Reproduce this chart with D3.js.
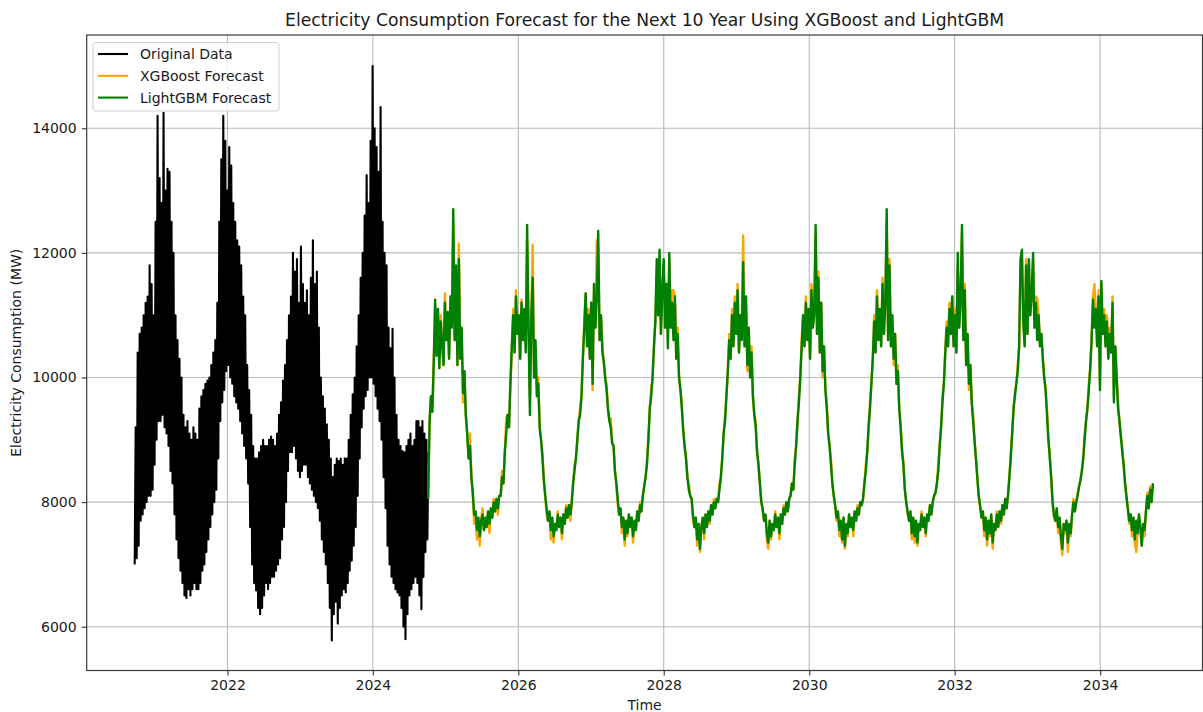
<!DOCTYPE html>
<html>
<head>
<meta charset="utf-8">
<script src="https://cdn.jsdelivr.net/npm/d3@7"></script>
<style>
  html, body { margin: 0; background: #ffffff; }
  svg { display: block; }
  text { font-family: "DejaVu Sans", sans-serif; fill: #1a1a1a; }
</style>
</head>
<body>
<svg id="chart" width="1203" height="712"></svg>
<script>
// Observed load: lowest and highest reading in each 10-day block, first block starts 2020-09-22
const originalStart = "2020-09-22";
const originalLow = [
  7000, 7100, 7300, 7700, 7800, 7900, 8000, 8100, 8100, 8200,
  8600, 9000, 9300, 9300, 9400, 9200, 9100, 8900, 8500, 8300,
  7800, 7400, 7100, 6900, 6700, 6500, 6460, 6600, 6500, 6600,
  6700, 6600, 6600, 6700, 6900, 7000, 7200, 7400, 7600, 7800,
  8000, 8200, 8700, 9300, 9600, 9800, 10100, 10200, 10000, 9900,
  9700, 9600, 9500, 9300, 9100, 8900, 8700, 8300, 7600, 7000,
  6700, 6580, 6300, 6200, 6300, 6500, 6700, 6600, 6700, 6800,
  6800, 6900, 7000, 7100, 7400, 7600, 8000, 8500, 8800, 8800,
  8900, 8700, 8500, 8400, 8500, 8600, 8600, 8400, 8300, 8200,
  8100, 8000, 7900, 7700, 7400, 7200, 7000, 6700, 6300, 5780,
  6200, 6400, 6050, 6300, 6500, 6600, 6550, 6700, 6900, 7060,
  7300, 7600, 8100, 8700, 9200, 9500, 9700, 9800, 10000, 10000,
  9900, 9700, 9500, 9300, 9000, 8400, 7900, 7300, 7000, 6800,
  6700, 6600, 6550, 6500, 6300, 6000, 5800, 6200, 6500, 6600,
  6700, 6800, 6700, 6500, 6280, 6800, 7200, 7400
];
const originalHigh = [
  9200, 10400, 10700, 10800, 11000, 11200, 11300, 11800, 11500, 11000,
  12500, 14200, 13200, 12800, 14250, 13000, 13350, 13300, 12500, 12000,
  11000, 10600, 10300, 10000, 9400, 9200, 9300, 9100, 9000, 9200,
  9100, 9000, 9500, 9700, 9800, 9900, 9950, 10000, 10200, 10400,
  10600, 11200, 12500, 13500, 14200, 13800, 13000, 13700, 13400, 12800,
  12500, 12200, 12100, 11800, 11300, 11000, 10200, 9800, 9400, 8900,
  8700, 8700, 8800, 8900, 9000, 8900, 8900, 9000, 9050, 9000,
  8900, 9100, 9400, 9600, 9950, 10200, 10600, 11000, 11300, 12000,
  11700, 11900, 11200, 12100, 11500, 11200, 11400, 11000, 11600, 12200,
  11500, 11700, 10800, 10000, 9700, 9500, 9250, 9000, 8700, 8400,
  8600, 8700, 8660, 8700, 8600, 8700, 8700, 9000, 9400, 9730,
  10000, 10500, 11000, 11600, 12000, 12600, 13250, 12800, 13800, 15000,
  14000, 13700, 13300, 14340, 12500, 12000, 11800, 10800, 10470, 10780,
  10000, 9400, 9000, 8900, 8820, 8800, 8900, 9000, 9100, 8900,
  9000, 9300, 9300, 9200, 9300, 9100, 9000, 8800
];

// Weekly forecasts, first week starts 2024-10-05 (one row per forecast year, Oct to Sep)
const forecastStart = "2024-10-05";
const xgboostForecast = [
  8050, 9350, 9700, 9450, 10250, 11100, 10350, 11100, 10150, 11000, 10550, 10200, 11350, 10600, 11050, 10300, 11300, 10900, 12500, 10600, 11600, 10200, 12150, 10500, 10800, 9600, 10100, 9400, 9100, 8700, 9100, 8400, 8150, 7650, 7850, 7400, 7750, 7300, 7700, 7900, 7550, 7650, 7600, 7850, 7500, 7900, 7750, 8050, 7850, 8050, 7800, 8100,
  8100, 8500, 8300, 8800, 9350, 9400, 9200, 9900, 10400, 11100, 10400, 11400, 10700, 11000, 10300, 11250, 10600, 11100, 10500, 12200, 10800, 9700, 11000, 12130, 10000, 10500, 9700, 10000, 9200, 9000, 8800, 8350, 8100, 7800, 7700, 7850, 7400, 7750, 7350, 7650, 7550, 7850, 7600, 7750, 7400, 7800, 7650, 7950, 7750, 7950, 7700, 8000,
  8300, 8600, 8700, 9000, 9300, 9500, 9700, 10300, 10900, 11350, 10500, 11100, 10300, 11200, 9800, 11500, 10800, 12200, 12100, 10600, 11000, 10500, 10250, 10000, 9900, 9500, 9300, 9350, 8950, 8900, 8500, 8300, 7950, 7800, 7900, 7500, 7750, 7300, 7700, 7450, 7800, 7600, 7750, 7350, 7700, 7550, 7850, 7700, 8000, 7850, 8100, 8250,
  8400, 8700, 9000, 9500, 9800, 10000, 10500, 10900, 11700, 11000, 11900, 10700, 11400, 11800, 10800, 11500, 10600, 11900, 10800, 11400, 11400, 11300, 10300, 10800, 10000, 9800, 9600, 9150, 8900, 8700, 8400, 8300, 8100, 8050, 7700, 7600, 7750, 7300, 7650, 7200, 7600, 7750, 7400, 7800, 7600, 7850, 7650, 7950, 7800, 8050, 7900, 8050,
  8000, 8300, 8400, 8700, 9100, 9400, 9700, 10100, 10700, 10300, 11100, 10500, 11300, 10700, 11500, 10400, 11000, 10700, 12280, 10500, 11300, 10100, 10800, 10000, 10500, 9700, 9400, 9300, 8800, 8600, 8300, 8000, 7850, 7700, 7800, 7400, 7250, 7700, 7400, 7650, 7550, 7850, 7600, 7750, 7400, 7800, 7650, 7950, 7800, 8000, 7850, 8050,
  8100, 8300, 8200, 8700, 8900, 9300, 9700, 10000, 10600, 11000, 10500, 11300, 10600, 11100, 10300, 11500, 10800, 11100, 12300, 10700, 11700, 10400, 11200, 10000, 10500, 9800, 9600, 9100, 8900, 8700, 8300, 8100, 7950, 7700, 7850, 7450, 7700, 7350, 7750, 7250, 7650, 7450, 7800, 7600, 7750, 7450, 7850, 7700, 7950, 7800, 8000, 7950,
  8050, 8300, 8600, 8800, 9200, 9600, 9900, 10300, 11000, 10400, 11400, 10600, 11100, 10500, 11600, 10700, 11200, 12500, 10600, 11900, 10500, 11000, 10200, 10700, 9900, 10200, 9500, 9200, 8900, 8600, 8200, 8000, 7800, 7700, 7850, 7400, 7750, 7350, 7700, 7300, 7650, 7550, 7850, 7600, 7750, 7450, 7800, 7700, 7950, 7800, 8000, 8100,
  8150, 8300, 8600, 8900, 9200, 9700, 9900, 10400, 10900, 10500, 11200, 10700, 11300, 10500, 11100, 10400, 11800, 10800, 11300, 12300, 10600, 11500, 10200, 10700, 9800, 10200, 9600, 9400, 9000, 8700, 8400, 8100, 7900, 7750, 7850, 7450, 7750, 7300, 7700, 7450, 7800, 7250, 7650, 7550, 7850, 7600, 7850, 7650, 7950, 7800, 8050, 7900,
  8100, 8400, 8800, 9100, 9500, 9800, 9900, 10200, 10500, 11700, 11900, 10900, 10500, 11900, 10700, 11800, 11000, 11400, 11900, 10800, 11300, 11270, 11000, 10500, 10700, 10300, 10000, 9800, 9500, 9000, 8800, 8400, 8000, 7750, 7700, 7900, 7500, 7750, 7350, 7150, 7650, 7500, 7700, 7200, 7650, 7450, 7800, 8050, 7850, 8000, 8150, 8250,
  8350, 8500, 8700, 9100, 9300, 9500, 9900, 10150, 10600, 11300, 11500, 11100, 10500, 11400, 9900, 11500, 10700, 11100, 10500, 11000, 10300, 10800, 10400, 11300, 9700, 10500, 10000, 9600, 9300, 9050, 8900, 8600, 8300, 8050, 7900, 7650, 7800, 7450, 7750, 7350, 7200, 7500, 7800, 7550, 7300, 7650, 7450, 7850, 8150, 7900, 8250, 8000, 8300
];
const lightgbmForecast = [
  8050, 9250, 9700, 9450, 10250, 11250, 10350, 11100, 10150, 10900, 10550, 10200, 11200, 10600, 11050, 10300, 11300, 10800, 12700, 10600, 11800, 10200, 11900, 10300, 10800, 9750, 10100, 9400, 9100, 8700, 8900, 8400, 8150, 7800, 7850, 7550, 7750, 7450, 7700, 7800, 7550, 7750, 7600, 7850, 7650, 7900, 7750, 8000, 7850, 8050, 7900, 8100,
  8100, 8400, 8300, 8800, 9100, 9400, 9200, 9900, 10500, 11000, 10400, 11300, 10700, 11000, 10300, 11200, 10600, 11100, 10400, 12450, 10800, 9400, 11000, 11600, 10000, 10600, 9700, 9900, 9200, 9000, 8700, 8350, 8100, 7900, 7700, 7850, 7550, 7750, 7450, 7650, 7550, 7800, 7600, 7750, 7500, 7800, 7650, 7900, 7750, 7950, 7800, 8000,
  8300, 8500, 8700, 9000, 9300, 9400, 9700, 10300, 10800, 11350, 10500, 11000, 10300, 11200, 9900, 11500, 10800, 11300, 12350, 10600, 11000, 10400, 10250, 10000, 9800, 9500, 9300, 9200, 8950, 8900, 8500, 8300, 8050, 7800, 7900, 7600, 7750, 7400, 7700, 7500, 7800, 7600, 7750, 7450, 7700, 7550, 7850, 7700, 7950, 7850, 8100, 8250,
  8400, 8600, 9000, 9500, 9700, 10000, 10500, 10900, 11900, 11000, 12050, 10700, 11400, 11900, 10800, 11500, 10470, 12000, 10800, 11200, 10600, 11300, 10300, 10700, 10000, 9800, 9500, 9150, 8900, 8700, 8400, 8200, 8100, 8050, 7800, 7600, 7750, 7400, 7650, 7250, 7600, 7750, 7500, 7800, 7600, 7850, 7700, 7950, 7800, 8000, 7900, 8050,
  8000, 8200, 8400, 8700, 9100, 9300, 9700, 10100, 10600, 10300, 11000, 10500, 11200, 10700, 11400, 10400, 11000, 10600, 11850, 10500, 11300, 10200, 10800, 10000, 10400, 9700, 9400, 9200, 8800, 8600, 8300, 8000, 7900, 7700, 7800, 7500, 7350, 7700, 7450, 7650, 7550, 7800, 7600, 7750, 7500, 7800, 7650, 7900, 7800, 8000, 7850, 8050,
  8100, 8300, 8200, 8600, 8900, 9300, 9600, 10000, 10500, 11000, 10500, 11200, 10600, 11100, 10300, 11400, 10800, 11000, 12450, 10700, 11600, 10400, 11200, 10100, 10500, 9800, 9500, 9100, 8900, 8600, 8300, 8100, 7950, 7750, 7850, 7550, 7700, 7400, 7750, 7300, 7650, 7500, 7800, 7600, 7750, 7550, 7850, 7700, 7900, 7800, 8000, 7950,
  8050, 8300, 8500, 8800, 9200, 9500, 9900, 10300, 10900, 10400, 11300, 10600, 11100, 10500, 11500, 10700, 11200, 12700, 10600, 11800, 10500, 11000, 10300, 10700, 9900, 10100, 9500, 9200, 8800, 8600, 8200, 8000, 7850, 7700, 7850, 7500, 7750, 7450, 7700, 7350, 7650, 7550, 7800, 7600, 7750, 7500, 7800, 7700, 7950, 7800, 8000, 8100,
  8150, 8300, 8500, 8900, 9200, 9600, 9900, 10400, 10800, 10500, 11100, 10700, 11300, 10500, 11000, 10400, 12000, 10800, 11200, 12450, 10600, 11400, 10200, 10700, 9900, 10200, 9600, 9300, 9000, 8700, 8400, 8100, 7950, 7750, 7850, 7550, 7750, 7400, 7700, 7500, 7800, 7350, 7650, 7550, 7800, 7600, 7850, 7700, 7950, 7800, 8050, 7900,
  8100, 8400, 8700, 9100, 9500, 9700, 9900, 10100, 10500, 11900, 12050, 10900, 10500, 11800, 10700, 11900, 11000, 11300, 12000, 10800, 11200, 10600, 11000, 10500, 10700, 10300, 10000, 9800, 9400, 9000, 8700, 8400, 8000, 7800, 7700, 7900, 7600, 7750, 7450, 7250, 7650, 7550, 7700, 7350, 7650, 7500, 7800, 8000, 7850, 8000, 8100, 8250,
  8350, 8500, 8700, 9000, 9300, 9500, 9800, 10150, 10600, 11250, 10800, 11100, 10500, 11300, 9800, 11550, 10700, 11000, 10500, 10900, 10300, 10700, 10400, 11200, 9600, 10500, 10000, 9500, 9300, 9050, 8800, 8600, 8300, 8100, 7900, 7700, 7800, 7550, 7750, 7400, 7700, 7500, 7800, 7600, 7300, 7650, 7550, 7850, 8100, 7900, 8200, 8000, 8300
];

const yearTicks = [2022, 2024, 2026, 2028, 2030, 2032, 2034];
const mwTicks = [6000, 8000, 10000, 12000, 14000];

const seriesInfo = [
  { name: "Original Data", color: "#000000" },
  { name: "XGBoost Forecast", color: "#ffa500" },
  { name: "LightGBM Forecast", color: "#008000" }
];

// ---- layout ----
const plot = { left: 86.7, right: 1202.5, top: 35, bottom: 670.5 };
const DAY = 24 * 3600 * 1000;
const parse = d3.utcParse("%Y-%m-%d");

const x = d3.scaleUtc()
  .domain([Date.UTC(2020, 0, 25), Date.UTC(2035, 4, 30)])
  .range([plot.left, plot.right]);
const y = d3.scaleLinear()
  .domain([5297, 15497])
  .range([plot.bottom, plot.top]);

const svg = d3.select("#chart");

// original series: alternate block low and block high, 5 days apart
const t0 = parse(originalStart).getTime();
const originalPts = [];
originalLow.forEach((lo, k) => {
  originalPts.push({ t: new Date(t0 + k * 10 * DAY), v: lo });
  originalPts.push({ t: new Date(t0 + (k * 10 + 5) * DAY), v: originalHigh[k] });
});

const f0 = parse(forecastStart).getTime();
const weekly = arr => arr.map((v, i) => ({ t: new Date(f0 + i * 7 * DAY), v }));
const xgbPts = weekly(xgboostForecast);
const lgbPts = weekly(lightgbmForecast);

// ---- grid ----
const grid = svg.append("g").attr("stroke", "#b0b0b0").attr("stroke-width", 1.1).attr("opacity", 0.85);
yearTicks.forEach(yr => {
  const px = x(Date.UTC(yr, 0, 1));
  grid.append("line").attr("x1", px).attr("x2", px).attr("y1", plot.top).attr("y2", plot.bottom);
});
mwTicks.forEach(v => {
  grid.append("line").attr("x1", plot.left).attr("x2", plot.right).attr("y1", y(v)).attr("y2", y(v));
});

// ---- series ----
svg.append("clipPath").attr("id", "plotclip").append("rect")
  .attr("x", plot.left).attr("y", plot.top)
  .attr("width", plot.right - plot.left).attr("height", plot.bottom - plot.top);

const line = d3.line().x(d => x(d.t)).y(d => y(d.v));
const marks = svg.append("g").attr("clip-path", "url(#plotclip)");
[[originalPts, 0, 2.1], [xgbPts, 1, 2.4], [lgbPts, 2, 2.4]].forEach(([pts, i, w]) => {
  marks.append("path")
    .attr("d", line(pts))
    .attr("fill", "none")
    .attr("stroke", seriesInfo[i].color)
    .attr("stroke-width", w)
    .attr("stroke-linejoin", "round");
});

// ---- axes ----
const xAxis = d3.axisBottom(x)
  .tickValues(yearTicks.map(yr => new Date(Date.UTC(yr, 0, 1))))
  .tickFormat(d3.utcFormat("%Y"))
  .tickSize(5).tickPadding(5);
const yAxis = d3.axisLeft(y)
  .tickValues(mwTicks)
  .tickFormat(d3.format("d"))
  .tickSize(5).tickPadding(5);

const gx = svg.append("g").attr("transform", `translate(0,${plot.bottom})`).call(xAxis);
const gy = svg.append("g").attr("transform", `translate(${plot.left},0)`).call(yAxis);
[gx, gy].forEach(g => {
  g.select(".domain").remove();
  g.selectAll(".tick line").attr("stroke", "#333").attr("stroke-width", 1.1);
  g.selectAll(".tick text").attr("font-size", 14).attr("fill", "#262626")
    .attr("font-family", "DejaVu Sans, sans-serif");
});

// frame
svg.append("rect")
  .attr("x", plot.left).attr("y", plot.top)
  .attr("width", plot.right - plot.left).attr("height", plot.bottom - plot.top)
  .attr("fill", "none").attr("stroke", "#3a3a3a").attr("stroke-width", 1.2);

// ---- labels ----
svg.append("text")
  .attr("x", (plot.left + plot.right) / 2).attr("y", 26)
  .attr("text-anchor", "middle").attr("font-size", 17.2)
  .text("Electricity Consumption Forecast for the Next 10 Year Using XGBoost and LightGBM");
svg.append("text")
  .attr("x", (plot.left + plot.right) / 2).attr("y", 709.5)
  .attr("text-anchor", "middle").attr("font-size", 14)
  .text("Time");
svg.append("text")
  .attr("transform", `translate(21,${(plot.top + plot.bottom) / 2}) rotate(-90)`)
  .attr("text-anchor", "middle").attr("font-size", 14)
  .text("Electricity Consumption (MW)");

// ---- legend ----
const legend = svg.append("g").attr("transform", "translate(93,42.5)");
legend.append("rect")
  .attr("width", 186).attr("height", 68.5).attr("rx", 3)
  .attr("fill", "#ffffff").attr("fill-opacity", 0.8)
  .attr("stroke", "#d0d0d0").attr("stroke-width", 1);
seriesInfo.forEach((s, i) => {
  const cy = 11.5 + i * 21.8;
  legend.append("line")
    .attr("x1", 5).attr("x2", 35).attr("y1", cy).attr("y2", cy)
    .attr("stroke", s.color).attr("stroke-width", 2.1);
  legend.append("text")
    .attr("x", 47).attr("y", cy).attr("dy", "0.36em")
    .attr("font-size", 14).text(s.name);
});
</script>
</body>
</html>
